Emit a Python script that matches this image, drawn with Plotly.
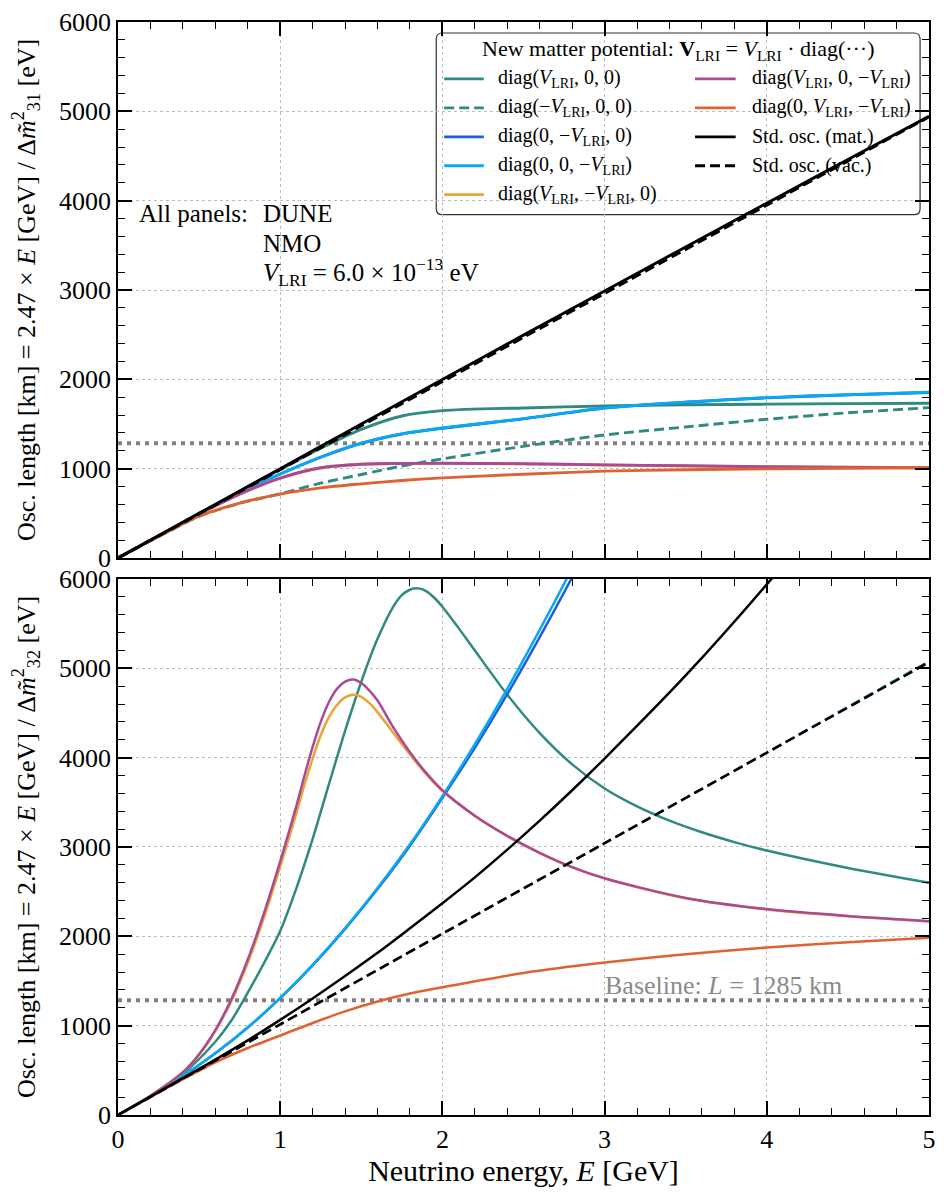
import plotly.graph_objects as go
from plotly.subplots import make_subplots

# ---------------- data ----------------
# Top panel: oscillation length from Delta m~^2_31 (km) vs energy (GeV)
E_top = [0, 0.25, 0.5, 0.75, 1.0, 1.25, 1.5, 1.75, 2.0, 2.5, 3.0, 3.5, 4.0, 4.5, 5.0]
top_teal = [0, 250, 500, 748, 990, 1228, 1440, 1590, 1650, 1680, 1702, 1715, 1722, 1728, 1732]
top_teal_dash = [0, 240, 465, 612, 718, 838, 935, 1030, 1110, 1250, 1377, 1467, 1553, 1625, 1683]
top_blue = [0, 250, 495, 728, 940, 1128, 1283, 1388, 1452, 1558, 1678, 1743, 1793, 1826, 1853]
top_cyan = [0, 250, 495, 728, 940, 1130, 1285, 1390, 1455, 1560, 1680, 1745, 1795, 1828, 1855]
top_yellow = [0, 250, 492, 714, 893, 1008, 1049, 1057, 1059, 1054, 1041, 1031, 1021, 1015, 1010]
top_magenta = [0, 250, 492, 715, 895, 1010, 1050, 1058, 1060, 1055, 1042, 1032, 1022, 1016, 1011]
top_orange = [0, 240, 468, 615, 715, 785, 830, 868, 897, 938, 972, 988, 998, 1005, 1011]
top_mat = [0, 250, 500, 750, 1000, 1250, 1500, 1748, 1998, 2495, 2990, 3482, 3972, 4460, 4945]
top_vac = [0, 247, 494, 741, 988, 1235, 1480, 1728, 1975, 2470, 2962, 3455, 3950, 4445, 4938]

# Bottom panel: oscillation length from Delta m~^2_32 (km) vs energy (GeV)
E_bot_teal = [0, 0.2, 0.4, 0.6, 0.7, 0.8, 0.9, 1.0, 1.1, 1.2, 1.3, 1.4, 1.5, 1.6, 1.7, 1.75, 1.8, 1.85, 1.9,
              1.95, 2.0, 2.1, 2.2, 2.4, 2.6, 2.8, 3.0, 3.2, 3.4, 3.6, 3.8, 4.0, 4.5, 5.0]
bot_teal = [0, 210, 460, 820, 1060, 1370, 1700, 2060, 2540, 3090, 3700, 4300, 4850, 5330, 5700, 5820, 5880,
            5895, 5865, 5790, 5690, 5450, 5200, 4705, 4275, 3925, 3655, 3455, 3295, 3165, 3055, 2960,
            2765, 2600]
E_bot_peak = [0, 0.2, 0.4, 0.5, 0.6, 0.7, 0.8, 0.9, 1.0, 1.1, 1.15, 1.2, 1.25, 1.3, 1.35, 1.4, 1.45,
              1.5, 1.55, 1.6, 1.7, 1.8, 1.9, 2.0, 2.2, 2.4, 2.6, 2.8, 3.0, 3.5, 4.0, 4.5, 5.0]
bot_magenta = [0, 215, 480, 680, 950, 1300, 1740, 2260, 2840, 3460, 3800, 4120, 4400, 4620, 4770, 4850,
               4874, 4835, 4750, 4640, 4330, 4060, 3830, 3635, 3350, 3125, 2935, 2775, 2650, 2430,
               2305, 2228, 2170]
bot_yellow = [0, 215, 478, 675, 940, 1280, 1705, 2210, 2780, 3380, 3700, 3990, 4250, 4450, 4590, 4675,
              4705, 4680, 4610, 4510, 4270, 4035, 3815, 3628, 3346, 3121, 2931, 2771, 2646, 2426,
              2301, 2224, 2166]
E_bot_blue = [0, 0.2, 0.4, 0.6, 0.8, 1.0, 1.2, 1.4, 1.6, 1.8, 2.0, 2.2, 2.4, 2.6, 2.8, 2.9]
bot_cyan = [0, 208, 435, 690, 980, 1310, 1680, 2090, 2540, 3030, 3570, 4150, 4770, 5430, 6120, 6480]
bot_blue = [0, 208, 435, 690, 979, 1308, 1676, 2084, 2530, 3015, 3550, 4110, 4710, 5350, 6020, 6380]
E_bot_mat = [0, 0.2, 0.4, 0.6, 0.8, 1.0, 1.2, 1.4, 1.6, 1.8, 2.0, 2.2, 2.4, 2.6, 2.8, 3.0, 3.5, 4.0, 4.2]
bot_mat = [0, 205, 412, 620, 835, 1065, 1305, 1555, 1815, 2090, 2370, 2660, 2970, 3295, 3635, 3990,
           4920, 5940, 6380]
E_bot_lin = [0, 1, 2, 3, 4, 5]
bot_vac = [0, 1015, 2030, 3042, 4055, 5068]
bot_teal_dash = [0, 1013, 2029, 3043, 4058, 5078]
E_bot_orange = [0, 0.2, 0.4, 0.6, 0.8, 1.0, 1.2, 1.4, 1.6, 1.8, 2.0, 2.5, 3.0, 3.5, 4.0, 4.5, 5.0]
bot_orange = [0, 200, 400, 590, 750, 890, 1030, 1160, 1270, 1360, 1430, 1590, 1706, 1800, 1875, 1935, 1985]

baseline_km = 1285

labels = [
    "diag(<i>V</i><sub>LRI</sub>, 0, 0)",
    "diag(\u2212<i>V</i><sub>LRI</sub>, 0, 0)",
    "diag(0, \u2212<i>V</i><sub>LRI</sub>, 0)",
    "diag(0, 0, \u2212<i>V</i><sub>LRI</sub>)",
    "diag(<i>V</i><sub>LRI</sub>, \u2212<i>V</i><sub>LRI</sub>, 0)",
    "diag(<i>V</i><sub>LRI</sub>, 0, \u2212<i>V</i><sub>LRI</sub>)",
    "diag(0, <i>V</i><sub>LRI</sub>, \u2212<i>V</i><sub>LRI</sub>)",
    "Std. osc. (mat.)",
    "Std. osc. (vac.)",
]
colors = ["#2f8a80", "#2f8a80", "#1c5ee0", "#08a8f2", "#eaa436", "#ab4a94", "#dd6330", "#000000", "#000000"]
dashes = ["solid", "10px,5px", "solid", "solid", "solid", "solid", "solid", "solid", "10px,5px"]

FONT = "Liberation Serif"

# pixel -> paper helpers (plot area: x 118..936, y 20..1115)
L, R, T, B = 118, 936, 20, 1115


def px(x):
    return (x - L) / (R - L)


def py(y):
    return (B - y) / (B - T)


fig = make_subplots(rows=2, cols=1, shared_xaxes=True, vertical_spacing=0.0192)

top_series = [
    (E_top, top_teal), (E_top, top_teal_dash), (E_top, top_blue), (E_top, top_cyan),
    (E_top, top_yellow), (E_top, top_magenta), (E_top, top_orange), (E_top, top_mat), (E_top, top_vac),
]
bot_series = [
    (E_bot_teal, bot_teal), (E_bot_lin, bot_teal_dash), (E_bot_blue, bot_blue), (E_bot_blue, bot_cyan),
    (E_bot_peak, bot_yellow), (E_bot_peak, bot_magenta), (E_bot_orange, bot_orange), (E_bot_mat, bot_mat),
    (E_bot_lin, bot_vac),
]

# baseline dotted lines
for r in (1, 2):
    fig.add_trace(go.Scatter(x=[0, 5], y=[baseline_km, baseline_km], mode="lines",
                             line=dict(color="#808080", width=4, dash="4px,5px"),
                             showlegend=False, hoverinfo="skip"), row=r, col=1)

for i in range(9):
    x, y = top_series[i]
    fig.add_trace(go.Scatter(x=x, y=y, mode="lines", name=labels[i], showlegend=False,
                             line=dict(color=colors[i], width=2.9, dash=dashes[i], shape="spline", smoothing=0.8)),
                  row=1, col=1)
for i in range(9):
    x, y = bot_series[i]
    fig.add_trace(go.Scatter(x=x, y=y, mode="lines", name=labels[i], showlegend=False,
                             line=dict(color=colors[i], width=2.5, dash=dashes[i], shape="spline", smoothing=0.8)),
                  row=2, col=1)

axis_common = dict(
    range=[0, 5], dtick=1, tick0=0, ticks="inside", ticklen=14, tickwidth=1.5, tickcolor="black",
    showline=True, linecolor="black", linewidth=1.8, mirror="allticks",
    showgrid=True, gridcolor="#bdbdbd", griddash="dot", gridwidth=1, zeroline=False,
    minor=dict(dtick=0.2, ticks="inside", ticklen=7, tickwidth=1.2, tickcolor="black", showgrid=False),
    tickfont=dict(family=FONT, size=26, color="black"),
)
yaxis_common = dict(
    range=[0, 6000], dtick=1000, tick0=0, ticks="inside", ticklen=14, tickwidth=1.5, tickcolor="black",
    showline=True, linecolor="black", linewidth=1.8, mirror="allticks",
    showgrid=True, gridcolor="#bdbdbd", griddash="dot", gridwidth=1, zeroline=False,
    minor=dict(dtick=200, ticks="inside", ticklen=7, tickwidth=1.2, tickcolor="black", showgrid=False),
    tickfont=dict(family=FONT, size=26, color="black"),
)

fig.update_xaxes(**axis_common)
fig.update_xaxes(showticklabels=False, row=1, col=1)
fig.update_xaxes(title=dict(text="Neutrino energy, <i>E</i> [GeV]", font=dict(family=FONT, size=30, color="black"),
                            standoff=6), row=2, col=1)
fig.update_yaxes(**yaxis_common)
fig.update_yaxes(title=dict(text="Osc. length [km] = 2.47 \u00d7 <i>E</i> [GeV] / \u0394<i>m\u0303</i><sup>2</sup><sub>31</sub> [eV]",
                            font=dict(family=FONT, size=26, color="black"), standoff=16), row=1, col=1)
fig.update_yaxes(title=dict(text="Osc. length [km] = 2.47 \u00d7 <i>E</i> [GeV] / \u0394<i>m\u0303</i><sup>2</sup><sub>32</sub> [eV]",
                            font=dict(family=FONT, size=26, color="black"), standoff=16), row=2, col=1)

# ---------------- manual legend (two columns, column-major) ----------------
bx0, bx1, by0, by1, rad = 439, 927, 31, 213, 6
path = (f"M {px(bx0 + rad)},{py(by0)} L {px(bx1 - rad)},{py(by0)} Q {px(bx1)},{py(by0)} {px(bx1)},{py(by0 + rad)} "
        f"L {px(bx1)},{py(by1 - rad)} Q {px(bx1)},{py(by1)} {px(bx1 - rad)},{py(by1)} "
        f"L {px(bx0 + rad)},{py(by1)} Q {px(bx0)},{py(by1)} {px(bx0)},{py(by1 - rad)} "
        f"L {px(bx0)},{py(by0 + rad)} Q {px(bx0)},{py(by0)} {px(bx0 + rad)},{py(by0)} Z")
fig.add_shape(type="path", path=path, xref="paper", yref="paper",
              line=dict(color="#333333", width=1.2), fillcolor="rgba(255,255,255,0.95)", layer="between")
fig.add_annotation(x=px(683), y=py(48), xref="paper", yref="paper", showarrow=False,
                   text="New matter potential: <b>V</b><sub>LRI</sub> = <i>V</i><sub>LRI</sub> \u00b7 diag(\u00b7\u00b7\u00b7)",
                   xanchor="center", yanchor="middle", font=dict(family=FONT, size=22, color="black"))
row_y = [77, 106, 135, 164, 193]
col_sample = [(447, 487, 499), (700, 741, 755)]
for i in range(9):
    c = 0 if i < 5 else 1
    r = i if i < 5 else i - 5
    s0, s1, tx = col_sample[c]
    yy = row_y[r]
    fig.add_shape(type="line", xref="paper", yref="paper", x0=px(s0), x1=px(s1), y0=py(yy), y1=py(yy),
                  line=dict(color=colors[i], width=2.8, dash=dashes[i]), layer="above")
    fig.add_annotation(x=px(tx), y=py(yy), xref="paper", yref="paper", showarrow=False, text=labels[i],
                       xanchor="left", yanchor="middle", font=dict(family=FONT, size=20, color="black"))

# ---------------- text annotations ----------------
ann_font = dict(family=FONT, size=25, color="black")
fig.add_annotation(x=0.115, y=3852, xref="x", yref="y", text="All panels:", showarrow=False,
                   xanchor="left", yanchor="middle", font=ann_font)
fig.add_annotation(x=0.88, y=3852, xref="x", yref="y", text="DUNE", showarrow=False,
                   xanchor="left", yanchor="middle", font=ann_font)
fig.add_annotation(x=0.88, y=3516, xref="x", yref="y", text="NMO", showarrow=False,
                   xanchor="left", yanchor="middle", font=ann_font)
fig.add_annotation(x=0.88, y=3200, xref="x", yref="y",
                   text="<i>V</i><sub>LRI</sub> = 6.0 \u00d7 10<sup>\u221213</sup> eV", showarrow=False,
                   xanchor="left", yanchor="middle", font=ann_font)
fig.add_annotation(x=2.99, y=1450, xref="x2", yref="y2", text="Baseline: <i>L</i> = 1285 km", showarrow=False,
                   xanchor="left", yanchor="middle", font=dict(family=FONT, size=26, color="#8a8a8a"))

fig.update_layout(
    width=944, height=1193,
    margin=dict(l=118, r=8, t=20, b=78),
    paper_bgcolor="white", plot_bgcolor="white",
    font=dict(family=FONT, color="black"),
    showlegend=False,
)

fig.write_html("out.html")
